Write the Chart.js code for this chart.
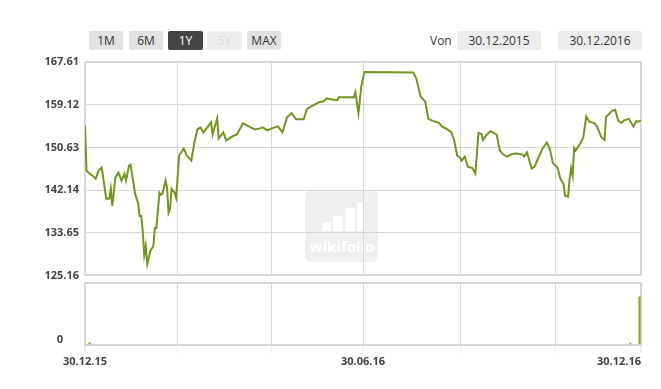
<!DOCTYPE html>
<html>
<head>
<meta charset="utf-8">
<script src="https://cdn.jsdelivr.net/npm/chart.js@4/dist/chart.umd.min.js"></script>
<style>
  body { margin: 0; width: 661px; height: 389px; overflow: hidden; background: #fff; font-family: "Open Sans", sans-serif; }
  .btn, .datebox { position: absolute; top: 31px; height: 19px; line-height: 19px; font-size: 12px; text-align: center; color: #333; background: #e2e2e2; border-radius: 2px; }
  .btn.active { background: #444; color: #fff; }
  .btn.off { background: #eeeeee; color: #dcdcdc; }
  .datebox { background: #ececec; }
  #von { position: absolute; top: 31px; left: 430px; line-height: 19px; font-size: 12px; color: #333; }
  #main { position: absolute; left: 0; top: 0; }
  #vol { position: absolute; left: 0; top: 254px; }
</style>
</head>
<body>
<div class="btn" style="left:89px;width:34px">1M</div>
<div class="btn" style="left:129px;width:34px">6M</div>
<div class="btn active" style="left:168px;width:35px">1Y</div>
<div class="btn off" style="left:207px;width:35px">5Y</div>
<div class="btn" style="left:247px;width:34px">MAX</div>
<div id="von">Von</div>
<div class="datebox" style="left:457px;width:84px">30.12.2015</div>
<div class="datebox" style="left:558px;width:84px">30.12.2016</div>

<canvas id="main" width="661" height="288"></canvas>
<canvas id="vol" width="661" height="135"></canvas>

<script>
// Tage seit 30.12.2015
const priceDays = [0, 1, 3, 5, 7, 9, 11, 14, 16, 17, 18, 20, 22, 24, 26, 27, 29, 30, 33, 35,
  36, 37, 38, 39, 40, 41, 43, 45, 46, 47, 49, 50, 51, 53, 54, 55, 56, 57, 59, 60,
  62, 65, 67, 70, 72, 74, 76, 78, 80, 83, 84, 87, 88, 91, 93, 97, 100, 104, 109, 112,
  115, 117, 120, 123, 127, 130, 133, 136, 139, 144, 146, 149, 154, 157, 159, 162, 166, 167, 170, 173,
  177, 178, 180, 182, 184, 216, 218, 221, 224, 226, 229, 233, 235, 238, 241, 243, 245, 247, 248, 250,
  252, 255, 257, 259, 261, 262, 264, 267, 270, 271, 273, 275, 278, 281, 284, 288, 289, 291, 294, 296,
  298, 301, 304, 306, 308, 311, 313, 315, 316, 318, 319, 320, 321, 322, 323, 326, 328, 330, 332, 335,
  337, 340, 342, 343, 347, 349, 351, 353, 355, 358, 361, 363, 364, 366];
const priceValues = [155.0, 146.0, 145.4, 145.0, 144.4, 146.0, 146.6, 140.4, 140.4, 142.4, 139.0, 144.6, 145.6, 144.0, 145.4, 144.0, 147.0, 147.2, 141.4, 139.4,
  137.0, 137.0, 134.0, 129.2, 131.0, 127.4, 130.0, 131.0, 134.6, 134.6, 141.6, 141.2, 141.4, 144.0, 142.6, 137.6, 138.4, 142.4, 141.6, 140.6,
  149.0, 150.4, 149.0, 148.0, 151.6, 154.2, 154.6, 153.6, 154.4, 155.6, 153.2, 156.4, 152.4, 153.6, 152.0, 152.8, 153.2, 155.4, 154.6, 154.2,
  154.4, 154.6, 154.0, 154.4, 154.8, 153.6, 156.6, 157.4, 156.2, 156.2, 158.2, 158.8, 159.6, 159.8, 160.4, 160.2, 160.0, 160.6, 160.6, 160.6,
  160.6, 161.6, 157.4, 163.0, 165.6, 165.5, 164.4, 160.7, 159.7, 156.3, 155.9, 155.5, 154.8, 154.3, 153.7, 152.0, 149.0, 148.6, 148.0, 148.8,
  146.8, 146.5, 145.4, 153.5, 153.3, 152.1, 153.0, 153.9, 153.3, 153.2, 150.1, 149.3, 148.8, 149.3, 149.4, 149.2, 148.8, 149.6, 146.4, 146.8,
  148.3, 150.3, 151.6, 150.3, 147.5, 146.6, 144.3, 143.4, 141.0, 140.8, 144.3, 146.5, 145.0, 150.5, 150.0, 151.4, 152.6, 156.8, 155.7, 155.5,
  154.8, 152.6, 152.1, 156.7, 157.9, 158.1, 155.9, 155.5, 156.0, 156.3, 154.8, 155.9, 155.7, 156.0];

const volumeDays = [3, 359, 365];
const volumeValues = [4, 3, 77];

const yTicks = [125.16, 133.65, 142.14, 150.63, 159.12, 167.61];
const gridDays = [0, 61, 123, 183, 247, 310, 366];
const dateLabels = { 0: '30.12.15', 183: '30.06.16', 366: '30.12.16' };

const gridColor = '#d6d6d6';
const labelFont = { family: 'Open Sans', size: 11, weight: 'bold' };

function edgeWidth(ctx) {
    return (ctx.index === 0 || ctx.index === ctx.scale.ticks.length - 1) ? 2 : 1;
}

// Wasserzeichen
const watermark = {
    id: 'watermark',
    beforeDraw(chart) {
        const c = chart.ctx;
        c.save();
        c.fillStyle = '#efefef';
        c.beginPath();
        c.roundRect(305, 190, 73, 72, 6);
        c.fill();
        c.fillStyle = '#ffffff';
        c.fillRect(323, 222, 8, 9);
        c.fillRect(333, 216, 10, 15);
        c.fillRect(345, 208, 10, 23);
        c.fillRect(357, 203, 6, 28);
        c.font = 'bold 15px "Open Sans"';
        c.textAlign = 'center';
        c.textBaseline = 'middle';
        c.fillText('wikifolio', 342, 248);
        c.restore();
    }
};

new Chart(document.getElementById('main'), {
    type: 'line',
    data: {
        datasets: [{
            data: priceDays.map((d, i) => ({ x: d, y: priceValues[i] })),
            borderColor: '#71961f',
            borderWidth: 2,
            pointRadius: 0,
            tension: 0,
            fill: false
        }]
    },
    plugins: [watermark],
    options: {
        responsive: false,
        animation: false,
        layout: { padding: { left: 0, top: 62, right: 20, bottom: 6 } },
        plugins: { legend: { display: false }, tooltip: { enabled: false } },
        scales: {
            x: {
                type: 'linear',
                min: 0,
                max: 366,
                afterBuildTicks: s => { s.ticks = gridDays.map(v => ({ value: v })); },
                afterFit: s => { s.height = 0; },
                ticks: { display: false },
                grid: { color: gridColor, lineWidth: edgeWidth, drawTicks: false },
                border: { display: false }
            },
            y: {
                min: 125.16,
                max: 167.61,
                afterBuildTicks: s => { s.ticks = yTicks.map(v => ({ value: v })); },
                afterFit: s => { s.width = 85; },
                ticks: { color: '#444', font: labelFont, padding: 6, callback: v => v.toFixed(2) },
                grid: { color: gridColor, lineWidth: edgeWidth, drawTicks: false },
                border: { display: false }
            }
        }
    }
});

new Chart(document.getElementById('vol'), {
    type: 'bar',
    data: {
        datasets: [{
            data: volumeDays.map((d, i) => ({ x: d, y: volumeValues[i] })),
            backgroundColor: '#9aa52a',
            barThickness: 1.5
        }]
    },
    options: {
        responsive: false,
        animation: false,
        layout: { padding: { left: 0, top: 12, right: 20, bottom: 0 } },
        plugins: { legend: { display: false }, tooltip: { enabled: false } },
        scales: {
            x: {
                type: 'linear',
                min: 0,
                max: 366,
                offset: false,
                // doppelter erster Tick, damit das erste Label zentriert bleibt
                afterBuildTicks: s => { s.ticks = [{ value: 0 }].concat(gridDays.map(v => ({ value: v }))); },
                afterFit: s => { s.height = 44; },
                ticks: {
                    autoSkip: false,
                    maxRotation: 0,
                    align: 'inner',
                    padding: 2,
                    color: '#444',
                    font: labelFont,
                    callback: (v, i) => (i === 0 ? '' : (dateLabels[v] || ''))
                },
                grid: { color: gridColor, lineWidth: edgeWidth, tickLength: 8, tickColor: '#ececec', offset: false },
                border: { display: false }
            },
            y: {
                min: 0,
                max: 100,
                afterBuildTicks: s => { s.ticks = [{ value: 0 }, { value: 100 }]; },
                afterFit: s => { s.width = 85; },
                ticks: { color: '#444', font: labelFont, padding: 22, labelOffset: -5, callback: v => (v === 0 ? '0' : '') },
                grid: { color: gridColor, lineWidth: 2, drawTicks: false },
                border: { display: false }
            }
        }
    }
});
</script>
</body>
</html>
